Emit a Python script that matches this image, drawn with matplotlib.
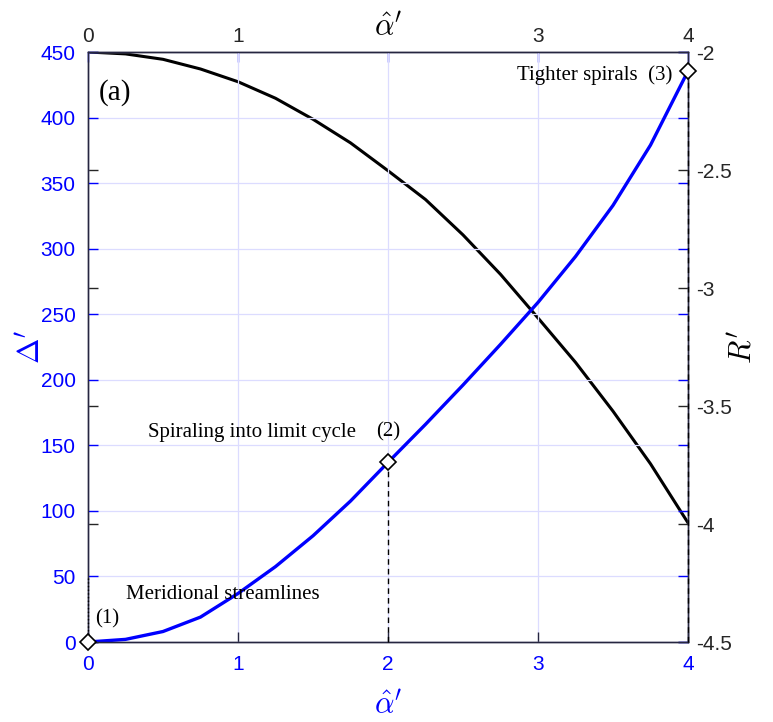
import matplotlib
matplotlib.use('Agg')
import matplotlib.pyplot as plt
import numpy as np

#-------------------------------------------------------------------------
# Data
#-------------------------------------------------------------------------

alpha = [0.0, 0.25, 0.5, 0.75, 1.0, 1.25, 1.5, 1.75, 2.0,
         2.25, 2.5, 2.75, 3.0, 3.25, 3.5, 3.75, 4.0]
delta = [0.0, 2.0, 8.0, 19.0, 37.0, 57.5, 81.0, 107.5, 137.0,
         166.0, 196.0, 227.0, 259.0, 294.0, 333.0, 379.0, 435.5]
rr    = [-2.0, -2.008, -2.031, -2.072, -2.126, -2.196, -2.285, -2.385, -2.503,
         -2.625, -2.775, -2.942, -3.127, -3.315, -3.522, -3.745, -3.995]

mark_alpha = [0.0, 2.0, 4.0]
mark_delta = [0.0, 137.0, 435.5]

left_ticks  = [0, 50, 100, 150, 200, 250, 300, 350, 400, 450]
right_ticks = [-4.5, -4, -3.5, -3, -2.5, -2]
x_ticks     = [0, 1, 2, 3, 4]

#-------------------------------------------------------------------------
# Configure matplotlib
#-------------------------------------------------------------------------

plt.rcParams['font.family']      = 'Liberation Sans'
plt.rcParams['font.size']        = 15
plt.rcParams['mathtext.fontset'] = 'cm'

blue  = (0, 0, 1)
dark  = '#262640'
gray  = '#262626'
gridc = '#dcdcff'
serif = 'Liberation Serif'

fig = plt.figure(figsize=(7.73, 7.22), dpi=100)
ax = fig.add_axes([88/773, 80/722, 600/773, 590/722])
ax2 = ax.twinx()

ax.set_zorder(ax2.get_zorder() + 1)
ax.patch.set_visible(False)

#-------------------------------------------------------------------------
# Curves
#-------------------------------------------------------------------------

ax2.plot(alpha, rr, color='black', linewidth=2.2)
ax.plot(alpha, delta, color=blue, linewidth=2.4)

# guide lines down to the axis
ax.plot([mark_alpha[0]] * 2, [0, 50], color='black', linestyle=':',
        linewidth=1.0, clip_on=False, zorder=3)
ax.plot([mark_alpha[1]] * 2, [0, mark_delta[1]], color='black',
        linewidth=1.0, dashes=(4, 3), clip_on=False, zorder=3)
ax.plot([mark_alpha[2]] * 2, [0, mark_delta[2]], color='black',
        linewidth=1.0, dashes=(4, 3), clip_on=False, zorder=3)

ax.plot(mark_alpha, mark_delta, linestyle='none', marker='D', markersize=8,
        markerfacecolor='white', markeredgecolor='black', markeredgewidth=1.2,
        clip_on=False, zorder=5)

#-------------------------------------------------------------------------
# Axes
#-------------------------------------------------------------------------

ax.set_xlim(0, 4)
ax.set_ylim(0, 450)
ax2.set_ylim(-4.5, -2)

ax.set_xticks(x_ticks)
ax.set_yticks(left_ticks)
ax2.set_yticks(right_ticks)
ax2.set_yticklabels(['-4.5', '-4', '-3.5', '-3', '-2.5', '-2'])

ax.grid(True, color=gridc, linewidth=0.9)
ax.set_axisbelow(True)

ax.tick_params(axis='y', colors=blue, direction='in', length=7, width=1,
               right=True, labelsize=15, pad=9)
ax.tick_params(axis='x', colors=blue, direction='in', length=7, width=1,
               labelsize=15, pad=9)
ax.tick_params(axis='x', color=dark)
ax2.tick_params(axis='y', colors=gray, direction='in', length=7, width=1,
                left=True, labelsize=15, pad=6)

for a in (ax, ax2):
    for s in a.spines.values():
        s.set_color(dark)
        s.set_linewidth(1.0)

# top axis: the "2" label is hidden behind the axis title
top = ax.secondary_xaxis('top')
top.set_xticks(x_ticks)
top.set_xticklabels(['0', '1', '', '3', '4'])
top.tick_params(axis='x', colors=gray, direction='in', length=7, width=1,
                labelsize=15, pad=4)
top.tick_params(axis='x', color=blue)
top.spines['top'].set_color(dark)
top.set_xlabel(r"$\hat{\alpha}'$", fontsize=22, color='black', labelpad=-6)

ax.set_xlabel(r"$\hat{\alpha}'$", fontsize=22, color=blue, labelpad=12)
ax.set_ylabel(r"$\Delta'$", fontsize=22, color=blue, labelpad=-4)
ax2.set_ylabel(r"$R'$", fontsize=22, color='black', labelpad=-3)

#-------------------------------------------------------------------------
# Annotations
#-------------------------------------------------------------------------

ax.text(0.075, 419, '(a)', fontsize=21, family=serif, va='center', ha='left')
ax.text(0.05, 17.5, '(1)', fontsize=15, family=serif, va='center', ha='left')
ax.text(0.253, 36, 'Meridional streamlines', fontsize=15, family=serif,
        va='center', ha='left')
ax.text(0.40, 160, 'Spiraling into limit cycle', fontsize=15, family=serif,
        va='center', ha='left')
ax.text(2.0, 160, '(2)', fontsize=15, family=serif, va='center', ha='center')
ax.text(3.893, 432, 'Tighter spirals  (3)', fontsize=15, family=serif,
        va='center', ha='right')

fig.savefig('out.png', dpi=100)
